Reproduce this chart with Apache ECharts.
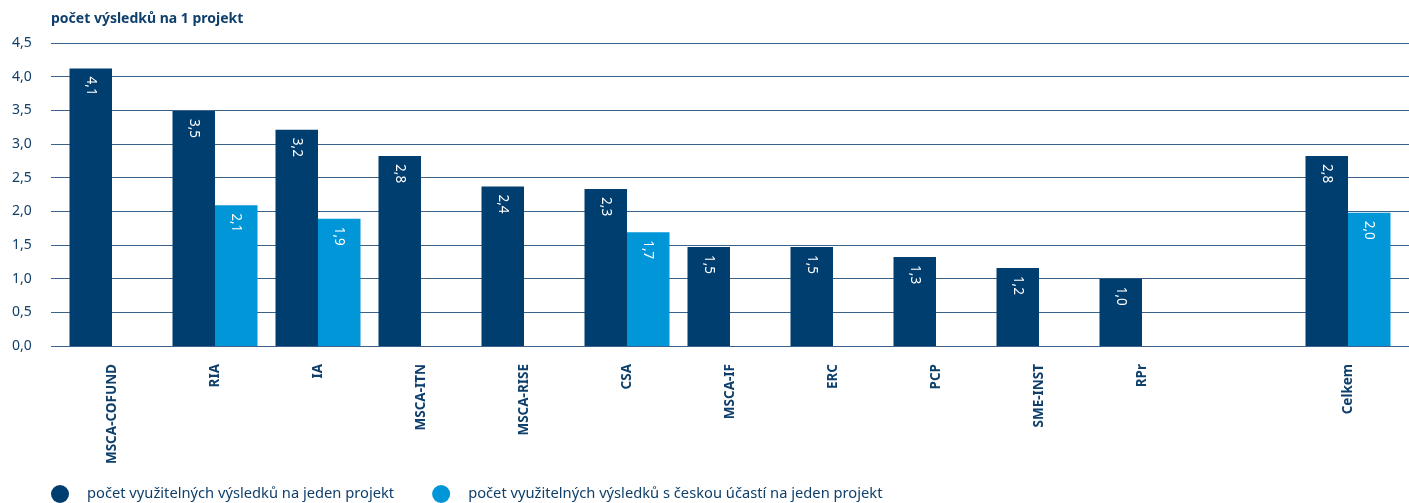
<!DOCTYPE html>
<html><head><meta charset="utf-8">
<script src="https://cdn.jsdelivr.net/npm/echarts@6/dist/echarts.min.js"></script>
<style>html,body{margin:0;padding:0;background:#fff}#c{width:1409px;height:503px}</style>
</head><body><div id="c"></div>
<script>
const categories = ['MSCA-COFUND','RIA','IA','MSCA-ITN','MSCA-RISE','CSA','MSCA-IF','ERC','PCP','SME-INST','RPr','','Celkem'];
const seriesAll = [4.12, 3.49, 3.21, 2.82, 2.37, 2.33, 1.47, 1.47, 1.32, 1.16, 1.0, null, 2.82];
const seriesCz  = [null, 2.09, 1.89, null, null, 1.69, null, null, null, null, null, null, 1.98];
const yTicks = [0, 0.5, 1, 1.5, 2, 2.5, 3, 3.5, 4, 4.5];
const names = ['počet využitelných výsledků na jeden projekt','počet využitelných výsledků s českou účastí na jeden projekt'];
const titleText = 'počet výsledků na 1 projekt';

const DARK = '#003e6f', LIGHT = '#0096d8', TXT = '#0f3f6b';
const fmt = v => v.toFixed(1).replace('.', ',');
const font = '"Noto Sans", sans-serif';
const chart = echarts.init(document.getElementById('c'));
const barLabel = {
  show: true, position: 'insideTop', rotate: -90, color: '#fff', fontSize: 13.5,
  fontFamily: font, distance: 8, align: 'left', verticalAlign: 'middle',
  formatter: p => p.value == null ? '' : fmt(p.value)
};
chart.setOption({
  animation: false,
  textStyle: { fontFamily: font },
  title: { text: titleText, left: 46, top: 7, textStyle: { fontSize: 14, fontWeight: 'bold', color: TXT, fontFamily: font } },
  legend: {
    top: 480, left: 46, icon: 'circle', itemWidth: 18, itemHeight: 18, itemGap: 38,
    textStyle: { fontSize: 14.7, color: TXT, padding: [0, 0, 0, 13], fontFamily: font },
    data: names
  },
  grid: [
    { left: 51, right: 0, top: 43, height: 303 },
    { left: 60.5, right: 9.5, top: 43, height: 303 }
  ],
  xAxis: [
    { type: 'value', gridIndex: 0, show: false, min: 0, max: 1 },
    { type: 'category', gridIndex: 1, data: categories,
      axisLine: { show: false }, axisTick: { show: false },
      axisLabel: { rotate: 90, fontSize: 13.5, fontWeight: 'bold', color: TXT, margin: 18, interval: 0, fontFamily: font } }
  ],
  yAxis: [
    { type: 'value', gridIndex: 0, min: 0, max: 4.5, interval: 0.5,
      axisLine: { show: false }, axisTick: { show: false },
      splitLine: { lineStyle: { color: '#3b6288', width: 1.2 } },
      axisLabel: { color: TXT, fontSize: 14, align: 'left', margin: 39, fontFamily: font,
        formatter: v => yTicks.includes(v) ? fmt(v) : '' } },
    { type: 'value', gridIndex: 1, min: 0, max: 4.5, interval: 0.5, show: false, splitLine: { show: false } }
  ],
  series: [
    { name: names[0], type: 'bar', xAxisIndex: 1, yAxisIndex: 1, data: seriesAll, barWidth: 42.5, barGap: '0%',
      itemStyle: { color: DARK }, label: barLabel },
    { name: names[1], type: 'bar', xAxisIndex: 1, yAxisIndex: 1, data: seriesCz, barWidth: 42.5, barGap: '0%',
      itemStyle: { color: LIGHT }, label: barLabel }
  ]
});
</script></body></html>
